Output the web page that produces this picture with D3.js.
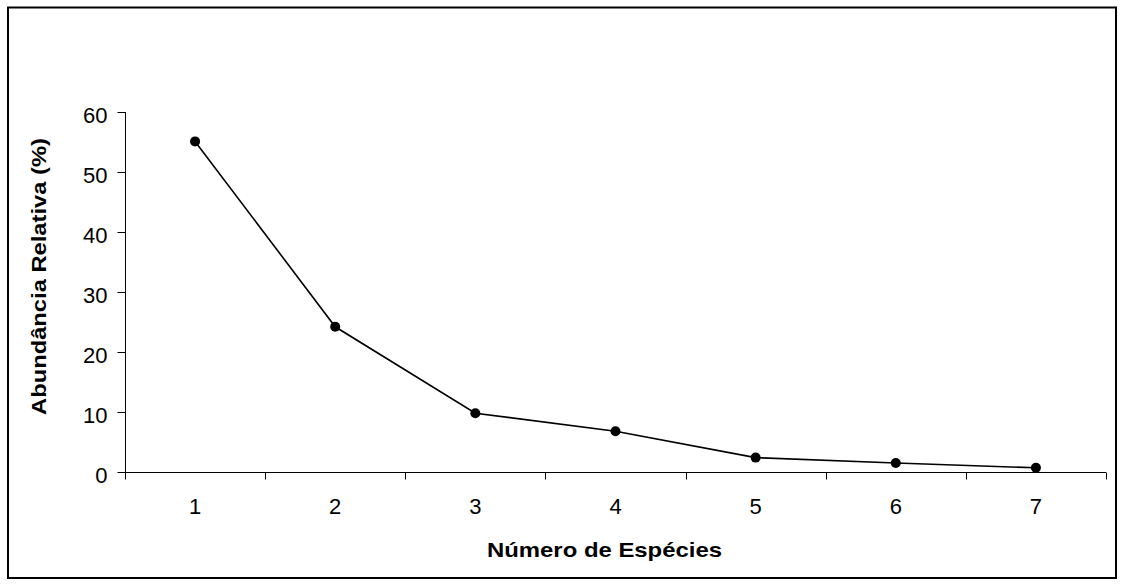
<!DOCTYPE html>
<html><head><meta charset="utf-8">
<script src="https://cdn.jsdelivr.net/npm/d3@7"></script>
<style>body{margin:0;background:#fff}svg{display:block}text{font-family:"Liberation Sans",Arial,sans-serif;fill:#000}</style>
</head><body>
<script>
const categories = ["1","2","3","4","5","6","7"];
const values = [55.1, 24.2, 9.8, 6.8, 2.4, 1.5, 0.7];
const yTicks = [0,10,20,30,40,50,60];
const xTitle = "Número de Espécies";
const yTitle = "Abundância Relativa (%)";

const W=1124,H=586;
const svg=d3.select("body").append("svg").attr("width",W).attr("height",H);
svg.append("rect").attr("x",8).attr("y",7.5).attr("width",1108).attr("height",570.5)
  .attr("fill","none").attr("stroke","#000").attr("stroke-width",2);

const x=d3.scaleBand().domain(categories).range([125,1106]);
const y=d3.scaleLinear().domain([0,60]).range([472,112]);

const gx=svg.append("g").attr("transform","translate(0,472.5)");
gx.append("line").attr("x1",125).attr("x2",1106).attr("stroke","#000");
const bounds=categories.map(c=>x(c)).concat([x.range()[1]]);
gx.selectAll(".t").data(bounds).enter().append("line")
  .attr("x1",d=>Math.round(d)+0.5).attr("x2",d=>Math.round(d)+0.5).attr("y1",0).attr("y2",7).attr("stroke","#000");
gx.selectAll(".l").data(categories).enter().append("text")
  .attr("x",d=>x(d)+x.bandwidth()/2).attr("y",41.5).attr("text-anchor","middle").attr("font-size",22).text(d=>d);

const gy=svg.append("g").attr("transform","translate(125.5,0)");
gy.append("line").attr("y1",112).attr("y2",472).attr("stroke","#000");
gy.selectAll(".t").data(yTicks).enter().append("line")
  .attr("x1",-8).attr("x2",0).attr("y1",d=>Math.round(y(d))+0.5).attr("y2",d=>Math.round(y(d))+0.5).attr("stroke","#000");
gy.selectAll(".l").data(yTicks).enter().append("text")
  .attr("x",-18).attr("y",d=>y(d)+11).attr("text-anchor","end").attr("font-size",22).text(d=>d);

const cx=(d,i)=>x(categories[i])+x.bandwidth()/2;
svg.append("path").datum(values)
  .attr("d",d3.line().x(cx).y(d=>y(d)))
  .attr("fill","none").attr("stroke","#000").attr("stroke-width",1.6);
svg.selectAll(".pt").data(values).enter().append("circle")
  .attr("cx",cx).attr("cy",d=>y(d)).attr("r",5).attr("fill","#000");

svg.append("text").attr("x",604.5).attr("y",557).attr("text-anchor","middle")
  .attr("font-size",21).attr("font-weight","bold")
  .attr("textLength",235).attr("lengthAdjust","spacingAndGlyphs").text(xTitle);
svg.append("text").attr("transform","translate(46,276.5) rotate(-90)").attr("text-anchor","middle")
  .attr("font-size",21).attr("font-weight","bold")
  .attr("textLength",277).attr("lengthAdjust","spacingAndGlyphs").text(yTitle);
</script>
</body></html>
